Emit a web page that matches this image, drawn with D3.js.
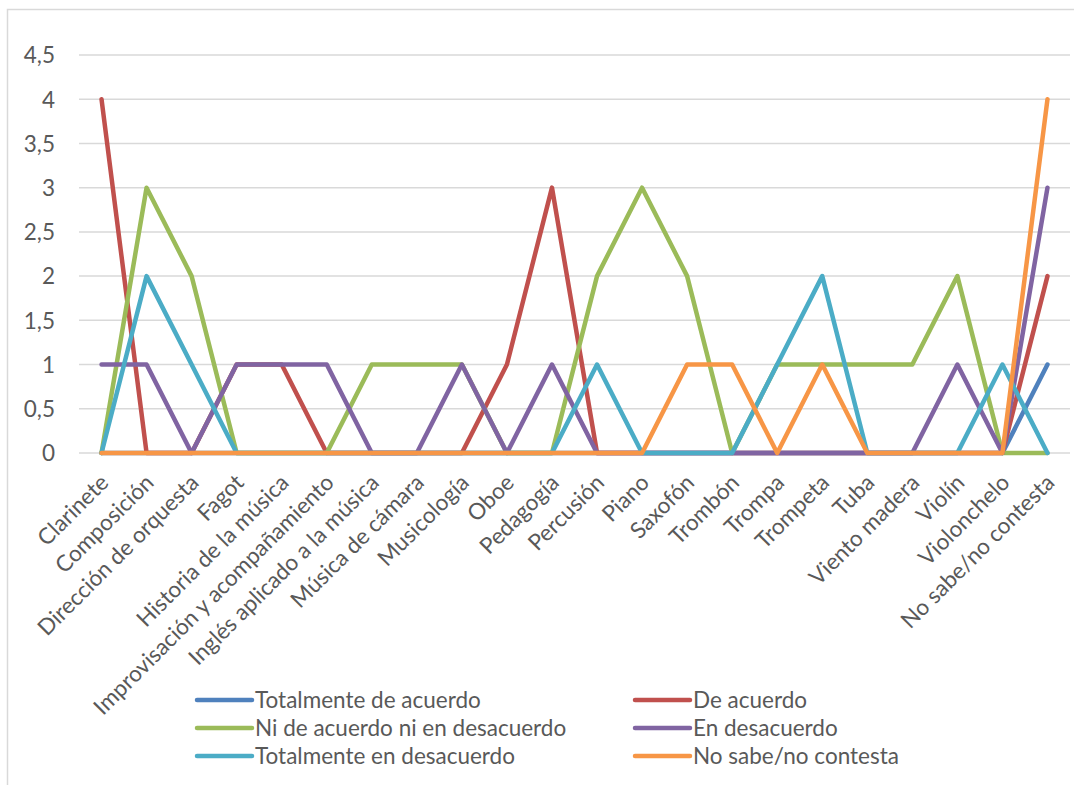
<!DOCTYPE html>
<html>
<head>
<meta charset="utf-8">
<script src="https://cdn.jsdelivr.net/npm/d3@7/dist/d3.min.js"></script>
<style>
  html, body { margin: 0; padding: 0; background: #fff; }
  svg { display: block; }
  text { font-family: Lato, "Open Sans", sans-serif; fill: #595959; }
</style>
</head>
<body>
<svg id="chart" width="1074" height="785"></svg>
<script>
const categories = ["Clarinete", "Composición", "Dirección de orquesta", "Fagot", "Historia de la música",
  "Improvisación y acompañamiento", "Inglés aplicado a la música", "Música de cámara", "Musicología",
  "Oboe", "Pedagogía", "Percusión", "Piano", "Saxofón", "Trombón", "Trompa", "Trompeta", "Tuba",
  "Viento madera", "Violín", "Violonchelo", "No sabe/no contesta"];

const totalmenteDeAcuerdo   = [0,0,0,0,0,0,0,0,0,0,0,0,0,0,0,0,0,0,0,0,0,1];
const deAcuerdo             = [4,0,0,1,1,0,0,0,0,1,3,0,0,0,0,0,0,0,0,0,0,2];
const niDeAcuerdo           = [0,3,2,0,0,0,1,1,1,0,0,2,3,2,0,1,1,1,1,2,0,0];
const enDesacuerdo          = [1,1,0,1,1,1,0,0,1,0,1,0,0,0,0,0,0,0,0,1,0,3];
const totalmenteEnDesacuerdo= [0,2,1,0,0,0,0,0,0,0,0,1,0,0,0,1,2,0,0,0,1,0];
const noSabe                = [0,0,0,0,0,0,0,0,0,0,0,0,0,1,1,0,1,0,0,0,0,4];

const yTicks = [0, 0.5, 1, 1.5, 2, 2.5, 3, 3.5, 4, 4.5];

const seriesNames = ["Totalmente de acuerdo", "De acuerdo", "Ni de acuerdo ni en desacuerdo",
  "En desacuerdo", "Totalmente en desacuerdo", "No sabe/no contesta"];
const seriesValues = [totalmenteDeAcuerdo, deAcuerdo, niDeAcuerdo, enDesacuerdo, totalmenteEnDesacuerdo, noSabe];
const seriesColors = ["#4f81bd", "#c0504d", "#9bbb59", "#8064a2", "#4bacc6", "#f79646"];

const FS = 22.5;
const svg = d3.select("#chart");

// chart border
svg.append("rect").attr("x", 7.5).attr("y", 9.5).attr("width", 1200).attr("height", 900)
  .attr("fill", "none").attr("stroke", "#d9d9d9").attr("stroke-width", 1.5);

const x = d3.scalePoint().domain(categories).range([79, 1070]).padding(0.5);
const y = d3.scaleLinear().domain([0, 4.5]).range([453, 55]);

// gridlines
svg.append("g").selectAll("line").data(yTicks).join("line")
  .attr("x1", 79).attr("x2", 1070)
  .attr("y1", d => y(d)).attr("y2", d => y(d))
  .attr("stroke", "#d9d9d9").attr("stroke-width", 1.5);

// y axis labels
const yAxis = d3.axisLeft(y).tickValues(yTicks).tickSize(0).tickPadding(0)
  .tickFormat(d => String(d).replace(".", ","));
const yg = svg.append("g").attr("transform", "translate(55,0)").call(yAxis);
yg.select(".domain").remove();
yg.selectAll("text").attr("font-size", FS).attr("fill", "#595959")
  .style("font-family", "Lato, sans-serif").attr("dy", "0.35em");

// x axis labels
const xAxis = d3.axisBottom(x).tickSize(0).tickPadding(0);
const xg = svg.append("g").attr("transform", "translate(0,453)").call(xAxis);
xg.select(".domain").remove();
xg.selectAll(".tick text")
  .attr("font-size", FS).attr("fill", "#595959").style("font-family", "Lato, sans-serif")
  .attr("text-anchor", "end")
  .attr("x", 0).attr("y", 0).attr("dy", 0)
  .attr("transform", "translate(8,31) rotate(-45)");

// lines
const line = d3.line().x((d, i) => x(categories[i])).y(d => y(d));
svg.append("g").selectAll("path").data(seriesValues).join("path")
  .attr("d", d => line(d))
  .attr("fill", "none")
  .attr("stroke", (d, i) => seriesColors[i])
  .attr("stroke-width", 4.5)
  .attr("stroke-linejoin", "round")
  .attr("stroke-linecap", "round");

// legend
const legendCols = [197, 635];
const legendRows = [700, 728, 756];
const lg = svg.append("g");
seriesNames.forEach((name, i) => {
  const cx = legendCols[i % 2];
  const cy = legendRows[Math.floor(i / 2)];
  lg.append("line").attr("x1", cx).attr("x2", cx + 55).attr("y1", cy).attr("y2", cy)
    .attr("stroke", seriesColors[i]).attr("stroke-width", 4.5).attr("stroke-linecap", "round");
  lg.append("text").attr("x", cx + 58).attr("y", cy).attr("dy", "0.35em")
    .attr("font-size", FS).text(name);
});
</script>
</body>
</html>
